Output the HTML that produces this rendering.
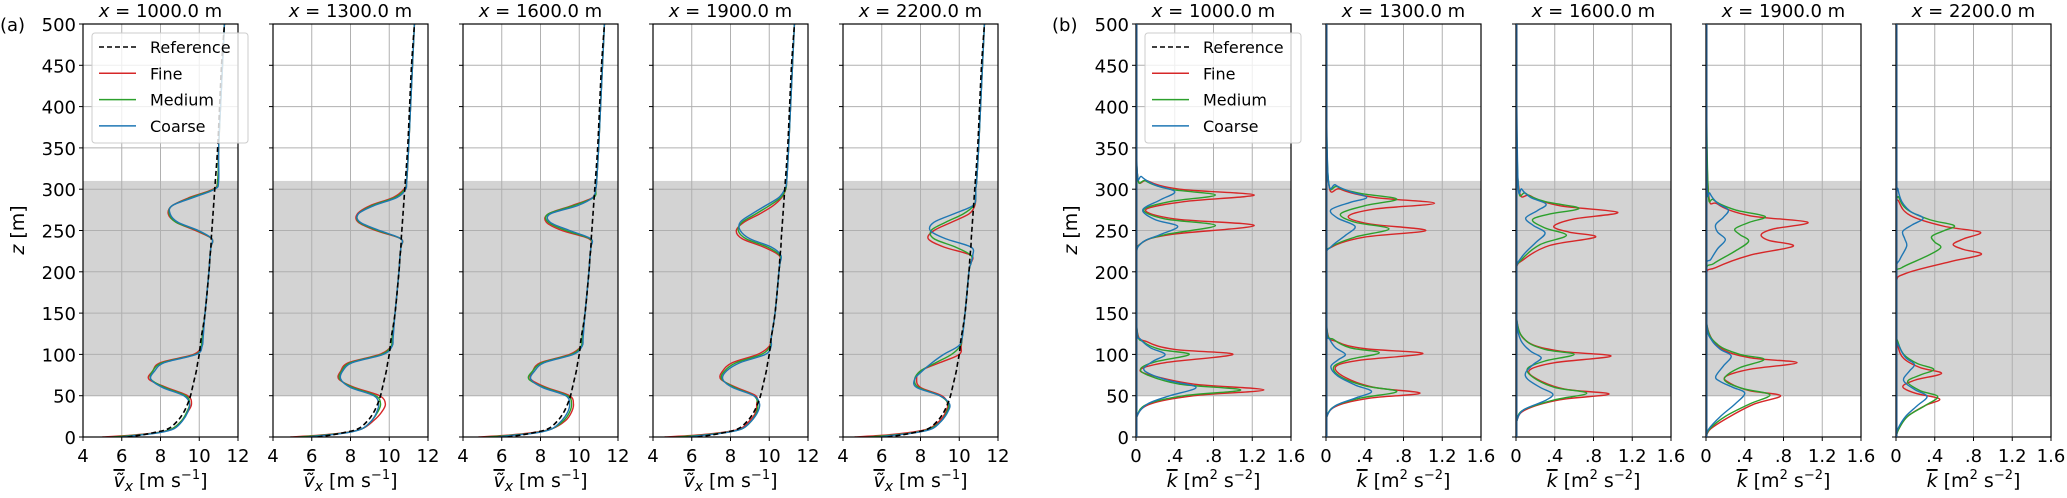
<!DOCTYPE html>
<html><head><meta charset="utf-8"><style>
html,body{margin:0;padding:0;background:#fff;}
svg{display:block;font-family:"DejaVu Sans","Liberation Sans",sans-serif;}
</style></head><body>
<svg id="fig" width="2067" height="498" viewBox="0 0 2067 498" xmlns="http://www.w3.org/2000/svg"></svg>
<script>
// ---------- data ----------
const stations = ["1000.0","1300.0","1600.0","1900.0","2200.0"];
const zTicks = [0,50,100,150,200,250,300,350,400,450,500];
const vTicks = [4,6,8,10,12];
const vTickLabels = ["4","6","8","10","12"];
const kTicks = [0,0.4,0.8,1.2,1.6];
const kTickLabels = ["0",".4",".8","1.2","1.6"];
const shadeBand = [50,310];
const zGrid = [0,2,5,10,20,30,40,50,60,70,80,90,100,110,120,150,200,210,220,230,240,250,260,270,280,290,300,310,350,400,450,500];
const vRef = [6.3,6.9,7.6,8.4,8.9,9.2,9.4,9.55,9.65,9.75,9.85,9.92,10.0,10.05,10.1,10.3,10.5,10.53,10.56,10.6,10.62,10.65,10.68,10.71,10.74,10.77,10.8,10.83,10.95,11.05,11.15,11.3];
const vFine = [
[5.0,6.4,7.7,8.6,9.1,9.4,9.6,9.4,8.3,7.4,7.6,8.0,9.7,10.1,10.15,10.3,10.5,10.53,10.56,10.6,10.65,9.8,8.8,8.4,8.6,9.5,10.7,10.95,11.0,11.1,11.2,11.3],
[4.9,6.3,7.6,8.6,9.2,9.6,9.8,9.5,8.2,7.4,7.5,7.9,9.5,10.1,10.15,10.3,10.5,10.53,10.56,10.6,10.6,9.3,8.4,8.35,9.0,10.2,10.75,10.9,11.0,11.1,11.2,11.3],
[4.8,6.2,7.5,8.6,9.3,9.6,9.7,9.5,8.3,7.5,7.6,8.0,9.5,10.1,10.15,10.3,10.5,10.53,10.56,10.6,10.5,9.1,8.3,8.4,9.6,10.7,10.85,10.9,11.0,11.1,11.2,11.3],
[4.6,6.1,7.4,8.5,9.0,9.3,9.35,9.3,8.3,7.5,7.6,8.1,9.4,10.0,10.1,10.3,10.5,10.55,10.5,9.7,8.6,8.3,8.7,9.5,10.2,10.65,10.85,10.9,11.0,11.1,11.2,11.3],
[4.6,6.0,7.3,8.4,9.0,9.3,9.4,9.1,8.0,7.8,8.0,9.0,10.0,10.1,10.15,10.3,10.5,10.6,10.6,9.2,8.4,8.7,9.6,10.5,10.8,10.85,10.85,10.9,11.0,11.1,11.2,11.3]];
const vMedium = [
[5.5,6.6,7.8,8.6,9.1,9.35,9.5,9.3,8.2,7.5,7.6,8.1,9.8,10.1,10.15,10.3,10.5,10.53,10.56,10.6,10.65,9.9,8.8,8.45,8.6,9.6,10.75,10.95,11.0,11.1,11.2,11.3],
[5.3,6.5,7.7,8.6,9.1,9.4,9.55,9.3,8.1,7.45,7.55,8.0,9.6,10.1,10.15,10.3,10.5,10.53,10.56,10.6,10.6,9.4,8.45,8.4,9.1,10.3,10.8,10.9,11.0,11.1,11.2,11.3],
[5.2,6.4,7.7,8.6,9.2,9.5,9.6,9.4,8.2,7.4,7.6,8.1,9.6,10.1,10.15,10.3,10.5,10.53,10.56,10.6,10.55,9.3,8.4,8.4,9.7,10.75,10.85,10.9,11.0,11.1,11.2,11.3],
[5.2,6.4,7.6,8.6,9.1,9.35,9.4,9.2,8.2,7.55,7.7,8.3,9.6,10.05,10.1,10.3,10.5,10.55,10.55,9.9,8.8,8.4,8.6,9.3,10.0,10.6,10.85,10.9,11.0,11.1,11.2,11.3],
[5.3,6.4,7.6,8.5,9.1,9.35,9.45,9.0,7.9,7.7,8.0,8.8,9.6,10.05,10.15,10.3,10.5,10.6,10.6,9.8,8.7,8.55,9.3,10.2,10.75,10.85,10.85,10.9,11.0,11.1,11.2,11.3]];
const vCoarse = [
[6.0,6.8,7.9,8.7,9.15,9.4,9.5,9.2,8.1,7.5,7.7,8.2,9.85,10.15,10.2,10.3,10.5,10.53,10.56,10.6,10.65,9.95,8.9,8.5,8.6,9.7,10.8,11.0,11.0,11.1,11.2,11.3],
[5.8,6.7,7.8,8.6,9.1,9.35,9.45,9.2,8.0,7.5,7.6,8.1,9.7,10.15,10.2,10.3,10.5,10.53,10.56,10.6,10.6,9.5,8.5,8.4,9.2,10.4,10.85,10.9,11.0,11.1,11.2,11.3],
[5.8,6.6,7.8,8.6,9.1,9.4,9.5,9.3,8.1,7.5,7.7,8.2,9.7,10.15,10.2,10.3,10.5,10.53,10.56,10.6,10.6,9.5,8.5,8.5,9.9,10.7,10.85,10.9,11.0,11.1,11.2,11.3],
[5.8,6.6,7.7,8.6,9.1,9.4,9.5,9.2,8.1,7.6,7.8,8.5,9.8,10.1,10.1,10.3,10.5,10.55,10.6,10.1,9.0,8.5,8.5,9.1,9.8,10.5,10.8,10.9,11.0,11.1,11.2,11.3],
[5.9,6.6,7.7,8.6,9.1,9.4,9.5,9.0,7.8,7.7,8.1,8.6,9.2,9.95,10.15,10.3,10.5,10.6,10.7,10.6,9.3,8.5,8.7,9.7,10.7,10.85,10.85,10.9,11.0,11.1,11.2,11.3]];
// TKE: [z, k] pairs
const kFine = [
[[0,0],[25,0.01],[40,0.15],[50,0.6],[57,1.32],[64,0.6],[75,0.15],[82,0.05],[90,0.3],[100,1.0],[106,0.4],[115,0.12],[130,0.01],[215,0],[235,0.06],[245,0.35],[256,1.22],[264,0.4],[275,0.1],[285,0.5],[293,1.22],[300,0.45],[310,0.12],[325,0.01],[500,0]],
[[0,0],[25,0.01],[38,0.12],[47,0.45],[53,0.97],[60,0.5],[72,0.2],[85,0.1],[93,0.35],[101,1.0],[107,0.4],[115,0.12],[130,0.01],[215,0],[230,0.06],[242,0.4],[250,1.03],[258,0.45],[267,0.23],[276,0.5],[283,1.12],[290,0.5],[300,0.15],[315,0.02],[500,0]],
[[0,0],[20,0.01],[33,0.1],[45,0.45],[52,0.96],[58,0.5],[70,0.22],[81,0.14],[90,0.4],[98,0.98],[104,0.45],[115,0.12],[140,0.01],[200,0],[215,0.08],[232,0.35],[242,0.82],[248,0.55],[255,0.39],[264,0.6],[272,1.05],[280,0.45],[292,0.15],[311,0.02],[500,0]],
[[0,0],[10,0.05],[25,0.25],[40,0.5],[50,0.77],[56,0.45],[65,0.25],[73,0.2],[82,0.45],[90,0.94],[96,0.45],[108,0.15],[135,0.01],[195,0],[205,0.1],[220,0.45],[231,0.9],[238,0.65],[245,0.57],[252,0.7],[260,1.05],[268,0.45],[282,0.12],[305,0.02],[500,0]],
[[0,0],[10,0.03],[25,0.12],[38,0.3],[46,0.45],[53,0.2],[61,0.07],[69,0.2],[77,0.47],[84,0.25],[95,0.08],[110,0.02],[130,0],[185,0],[198,0.1],[212,0.55],[221,0.88],[227,0.7],[233,0.59],[240,0.7],[248,0.87],[255,0.5],[268,0.15],[285,0.03],[310,0],[500,0]]];
const kMedium = [
[[0,0],[25,0.01],[40,0.12],[50,0.5],[57,1.08],[64,0.45],[75,0.12],[83,0.05],[91,0.2],[100,0.55],[106,0.25],[115,0.08],[130,0.01],[215,0],[235,0.06],[245,0.3],[256,0.82],[264,0.3],[275,0.08],[285,0.35],[293,0.82],[300,0.35],[310,0.1],[325,0.01],[500,0]],
[[0,0],[25,0.01],[38,0.1],[47,0.35],[55,0.73],[62,0.4],[73,0.15],[85,0.08],[94,0.25],[102,0.55],[108,0.25],[118,0.08],[130,0.01],[215,0],[230,0.05],[242,0.3],[252,0.65],[260,0.3],[270,0.15],[280,0.4],[288,0.73],[295,0.35],[303,0.12],[318,0.02],[500,0]],
[[0,0],[20,0.01],[33,0.08],[45,0.4],[53,0.73],[60,0.4],[72,0.18],[83,0.12],[92,0.3],[100,0.6],[106,0.3],[117,0.1],[140,0.01],[200,0],[215,0.06],[233,0.25],[244,0.52],[253,0.3],[263,0.17],[270,0.35],[277,0.65],[285,0.3],[295,0.1],[311,0.02],[500,0]],
[[0,0],[10,0.04],[25,0.2],[40,0.45],[51,0.66],[58,0.4],[66,0.22],[73,0.2],[84,0.35],[94,0.6],[100,0.35],[112,0.12],[135,0.01],[200,0],[210,0.08],[225,0.3],[237,0.44],[245,0.35],[252,0.3],[260,0.45],[267,0.61],[275,0.3],[287,0.08],[305,0.02],[500,0]],
[[0,0],[10,0.03],[25,0.12],[38,0.3],[49,0.43],[56,0.25],[67,0.12],[75,0.25],[82,0.39],[89,0.22],[100,0.08],[115,0.02],[130,0],[195,0],[205,0.06],[218,0.3],[229,0.46],[236,0.4],[243,0.37],[250,0.5],[256,0.6],[263,0.35],[275,0.12],[290,0.03],[310,0],[500,0]]];
const kCoarse = [
[[0,0],[25,0.01],[40,0.12],[50,0.35],[60,0.62],[68,0.35],[76,0.15],[83,0.08],[92,0.18],[100,0.3],[108,0.15],[118,0.05],[130,0.01],[215,0],[235,0.06],[245,0.25],[255,0.43],[263,0.2],[275,0.07],[287,0.25],[297,0.4],[305,0.2],[315,0.06],[328,0.01],[500,0]],
[[0,0],[25,0.01],[38,0.1],[47,0.3],[55,0.47],[63,0.3],[74,0.12],[85,0.05],[93,0.12],[100,0.2],[108,0.1],[118,0.04],[130,0.01],[215,0],[230,0.05],[244,0.2],[255,0.3],[265,0.12],[275,0.05],[284,0.25],[290,0.42],[297,0.25],[305,0.1],[318,0.02],[500,0]],
[[0,0],[20,0.01],[33,0.08],[44,0.3],[52,0.38],[60,0.25],[70,0.12],[78,0.1],[88,0.18],[96,0.26],[104,0.15],[117,0.05],[140,0.01],[200,0],[218,0.06],[235,0.2],[247,0.3],[256,0.18],[265,0.1],[274,0.22],[282,0.31],[290,0.15],[300,0.06],[312,0.02],[500,0]],
[[0,0],[10,0.03],[25,0.15],[40,0.3],[53,0.4],[60,0.28],[67,0.15],[73,0.1],[86,0.18],[98,0.26],[106,0.15],[117,0.06],[135,0.01],[205,0],[215,0.05],[228,0.12],[239,0.2],[248,0.12],[257,0.1],[266,0.18],[275,0.23],[283,0.12],[295,0.04],[310,0.01],[500,0]],
[[0,0],[10,0.02],[25,0.1],[38,0.22],[49,0.32],[57,0.2],[65,0.1],[71,0.08],[80,0.14],[88,0.19],[96,0.1],[108,0.04],[125,0],[200,0],[215,0.04],[231,0.11],[240,0.09],[249,0.07],[257,0.17],[265,0.28],[273,0.15],[285,0.06],[300,0.02],[320,0],[500,0]]];

// ---------- layout ----------
const NS="http://www.w3.org/2000/svg";
const svg=document.getElementById('fig');
const TOP=24, BOT=437, PW=155;
const leftsA=[83,273,463,653,843], leftsB=[1136,1326,1516,1706,1896];
const COL={fine:"#d62728",medium:"#2ca02c",coarse:"#1f77b4"};
function mk(tag,attrs,parent){const e=document.createElementNS(NS,tag);for(const k in attrs)e.setAttribute(k,attrs[k]);(parent||svg).appendChild(e);return e;}
function yS(z){return BOT-(z/500)*(BOT-TOP);}
function smooth(pts){let d="M"+pts[0][0].toFixed(2)+","+pts[0][1].toFixed(2);
 for(let i=0;i<pts.length-1;i++){const p0=pts[i-1]||pts[i],p1=pts[i],p2=pts[i+1],p3=pts[i+2]||p2;
  const c1=[p1[0]+(p2[0]-p0[0])/6,p1[1]+(p2[1]-p0[1])/6],c2=[p2[0]-(p3[0]-p1[0])/6,p2[1]-(p3[1]-p1[1])/6];
  d+=" C"+c1[0].toFixed(2)+","+c1[1].toFixed(2)+" "+c2[0].toFixed(2)+","+c2[1].toFixed(2)+" "+p2[0].toFixed(2)+","+p2[1].toFixed(2);}
 return d;}
function txt(x,y,s,attrs,parent){const t=mk('text',Object.assign({x:x,y:y,'font-size':18,fill:'#000'},attrs||{}),parent);t.textContent=s;return t;}

function panel(L,xmin,xmax,ticks,tickLabels,showY,kind,idx){
 const g=mk('g',{});
 
 
 const xS=v=>L+(v-xmin)/(xmax-xmin)*PW;
 const sh=mk('rect',{x:L,y:yS(shadeBand[1]),width:PW,height:yS(shadeBand[0])-yS(shadeBand[1]),fill:'#d3d3d3'},g);
 
 
 zTicks.forEach(z=>{mk('line',{x1:L,x2:L+PW,y1:yS(z),y2:yS(z),stroke:'#b0b0b0','stroke-width':1},g);
  mk('line',{x1:L-4,x2:L,y1:yS(z),y2:yS(z),stroke:'#000','stroke-width':1},g);
  if(showY){const t=txt(L-7,yS(z)+7,String(z),{'text-anchor':'end'},g);}});
 ticks.forEach((v,i)=>{mk('line',{x1:xS(v),x2:xS(v),y1:TOP,y2:BOT,stroke:'#b0b0b0','stroke-width':1},g);
  mk('line',{x1:xS(v),x2:xS(v),y1:BOT,y2:BOT+4,stroke:'#000','stroke-width':1},g);
  const t=txt(xS(v),BOT+25,tickLabels[i],{'text-anchor':'middle'},g);
  
  });
 const clip=mk('clipPath',{id:'c'+kind+idx},g);mk('rect',{x:L,y:TOP,width:PW,height:BOT-TOP},clip);
 const lg=mk('g',{'clip-path':'url(#c'+kind+idx+')'},g);
 return {g,xS,lg};
}
function frame(L,g){mk('rect',{x:L,y:TOP,width:PW,height:BOT-TOP,fill:'none',stroke:'#000','stroke-width':1.2},g);}
function title(L,s,g){const tt=mk('text',{x:L+PW/2,y:17,'font-size':18,'text-anchor':'middle'},g);tt.innerHTML='<tspan font-style="italic">x</tspan> = '+s+' m';
 
 }

// ---------- panel (a): velocity ----------
stations.forEach((s,i)=>{
 const L=leftsA[i];const {g,xS,lg}=panel(L,4,12,vTicks,vTickLabels,i===0,'velocity',i);
 const line=(arr,col,name,dash)=>{const p=mk('path',{d:smooth(zGrid.map((z,j)=>[xS(arr[j]),yS(z)])),fill:'none',stroke:col,'stroke-width':dash?1.6:1.4},lg);
  if(dash)p.setAttribute('stroke-dasharray','5,3');
  
  };
 line(vFine[i],COL.fine,'fine-line');line(vMedium[i],COL.medium,'medium-line');line(vCoarse[i],COL.coarse,'coarse-line');
 line(vRef,'#000','reference-line',true);
 frame(L,g);title(L,s,g);
 const xl=mk('text',{x:L+PW/2,y:487,'font-size':19,'text-anchor':'middle'},g);xl.innerHTML='<tspan font-style="italic" text-decoration="overline">ṽ</tspan><tspan font-style="italic" font-size="14" dy="4">x</tspan><tspan dy="-4"> [m s</tspan><tspan font-size="13" dy="-8">−1</tspan><tspan dy="8">]</tspan>';
 
 
});
// ---------- panel (b): TKE ----------
stations.forEach((s,i)=>{
 const L=leftsB[i];const {g,xS,lg}=panel(L,0,1.6,kTicks,kTickLabels,i===0,'tke',i);
 const line=(arr,col,name)=>{const p=mk('path',{d:smooth(arr.map(q=>[xS(q[1]),yS(q[0])])),fill:'none',stroke:col,'stroke-width':1.4},lg);
  
  };
 line(kFine[i],COL.fine,'fine-line');line(kMedium[i],COL.medium,'medium-line');line(kCoarse[i],COL.coarse,'coarse-line');
 frame(L,g);
 mk('line',{x1:L+0.8,x2:L+0.8,y1:TOP,y2:BOT,stroke:'#1f4e79','stroke-width':1.4},g);
 title(L,s,g);
 const xl=mk('text',{x:L+PW/2,y:487,'font-size':19,'text-anchor':'middle'},g);xl.innerHTML='<tspan font-style="italic" text-decoration="overline">k</tspan> [m<tspan font-size="13" dy="-8">2</tspan><tspan dy="8"> s</tspan><tspan font-size="13" dy="-8">−2</tspan><tspan dy="8">]</tspan>';
 
 
});
// ---------- labels & legends ----------
[[0,'(a)',83],[1040,'(b)',1136]].forEach(([x0,lab,L],j)=>{
 const t=txt(x0+(j?12:0),31,lab,{'font-size':18});
 
 
 const zl=mk('text',{x:0,y:0,'font-size':19,'text-anchor':'middle',transform:'translate('+(L-59)+',230) rotate(-90)'});
 zl.innerHTML='<tspan font-style="italic">z</tspan> [m]';
 
 
 const lg=mk('g',{});
 
 
 mk('rect',{x:L+9,y:33,width:156,height:110,rx:3,fill:'#fff','fill-opacity':0.8,stroke:'#ccc'},lg);
 [['Reference','#000',true],['Fine',COL.fine],['Medium',COL.medium],['Coarse',COL.coarse]].forEach((e,k)=>{
  const y=47+k*26.3;
  const l=mk('line',{x1:L+16,x2:L+53,y1:y,y2:y,stroke:e[1],'stroke-width':1.5},lg);
  if(e[2])l.setAttribute('stroke-dasharray','5,3');
  const t2=txt(L+67,y+6,e[0],{'font-size':16},lg);
  
  
 });
});
</script>
</body></html>
